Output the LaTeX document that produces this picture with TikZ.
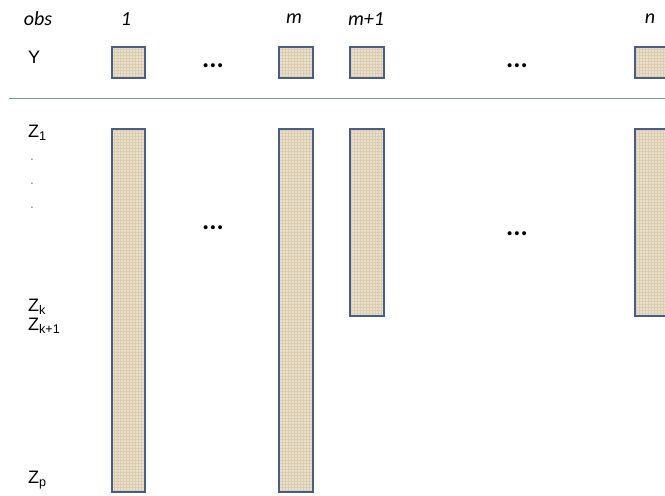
\documentclass[tikz,border=0pt]{standalone}
\usepackage{fontspec}
\setmainfont{Liberation Sans}
\newfontfamily\hdrfont{Carlito}
\usetikzlibrary{patterns}
\definecolor{boxfill}{HTML}{EADFCC}
\definecolor{boxgrid}{HTML}{DCCDB0}
\definecolor{boxline}{HTML}{44608A}
\definecolor{rule}{HTML}{7594B8}
\tikzset{
  cell/.style={draw=boxline, fill=boxfill, line width=1.8pt},
  tex/.style={pattern=grid, pattern color=boxgrid},
  lab/.style={font=\fontsize{18}{20}\selectfont, inner sep=0pt, anchor=west},
  hdr/.style={font=\hdrfont\fontsize{20}{22}\selectfont\itshape, inner sep=0pt},
  ell/.style={font=\hdrfont\fontsize{27}{30}\selectfont\bfseries, inner sep=0pt},
  vdot/.style={font=\fontsize{14}{16}\selectfont, text=gray, inner sep=0pt}
}
\newcommand{\cellbox}[2]{\fill[boxfill] #1 rectangle #2; \fill[tex] #1 rectangle #2; \draw[cell, fill=none] #1 rectangle #2;}
\begin{document}
\begin{tikzpicture}[x=1pt,y=-1pt]
\useasboundingbox (0,0) rectangle (665,496);
% headers
\node[hdr] (hobs) at (38,19) {obs};
\node[hdr] (h1) at (126,19) {1};
\node[hdr] (hm) at (294,19) {m};
\node[hdr] (hm1) at (366,19) {m+1};
\node[hdr] (hn) at (650,19) {n};
% Y row
\node[lab] (ylab) at (28,57) {Y};
\cellbox{(112,47)}{(145,78)}
\cellbox{(279,47)}{(313,78)}
\cellbox{(350,47)}{(384,78)}
\cellbox{(635,47)}{(669,78)}
\node[ell] (ydots1) at (213,66) {...};
\node[ell] (ydots2) at (517,66) {...};
% rule
\coordinate (rl) at (9,98);
\coordinate (rr) at (665,98);
\draw[rule, line width=1pt] (rl) -- (rr);
% Z labels
\node[lab] (z1) at (28,133) {Z\textsubscript{1}};
\node[vdot] (d1) at (32,160) {.};
\node[vdot] (d2) at (32,184) {.};
\node[vdot] (d3) at (32,208) {.};
\node[lab] (zk) at (28,307) {Z\textsubscript{k}};
\node[lab] (zk1) at (28,326) {Z\textsubscript{k+1}};
\node[lab] (zp) at (28,480) {Z\textsubscript{p}};
% Z columns
\cellbox{(112,129)}{(145,492)}
\cellbox{(279,129)}{(313,492)}
\cellbox{(350,129)}{(384,316)}
\cellbox{(635,129)}{(669,316)}
\node[ell] (zdots1) at (213,228) {...};
\node[ell] (zdots2) at (517,234) {...};
\end{tikzpicture}
\end{document}
